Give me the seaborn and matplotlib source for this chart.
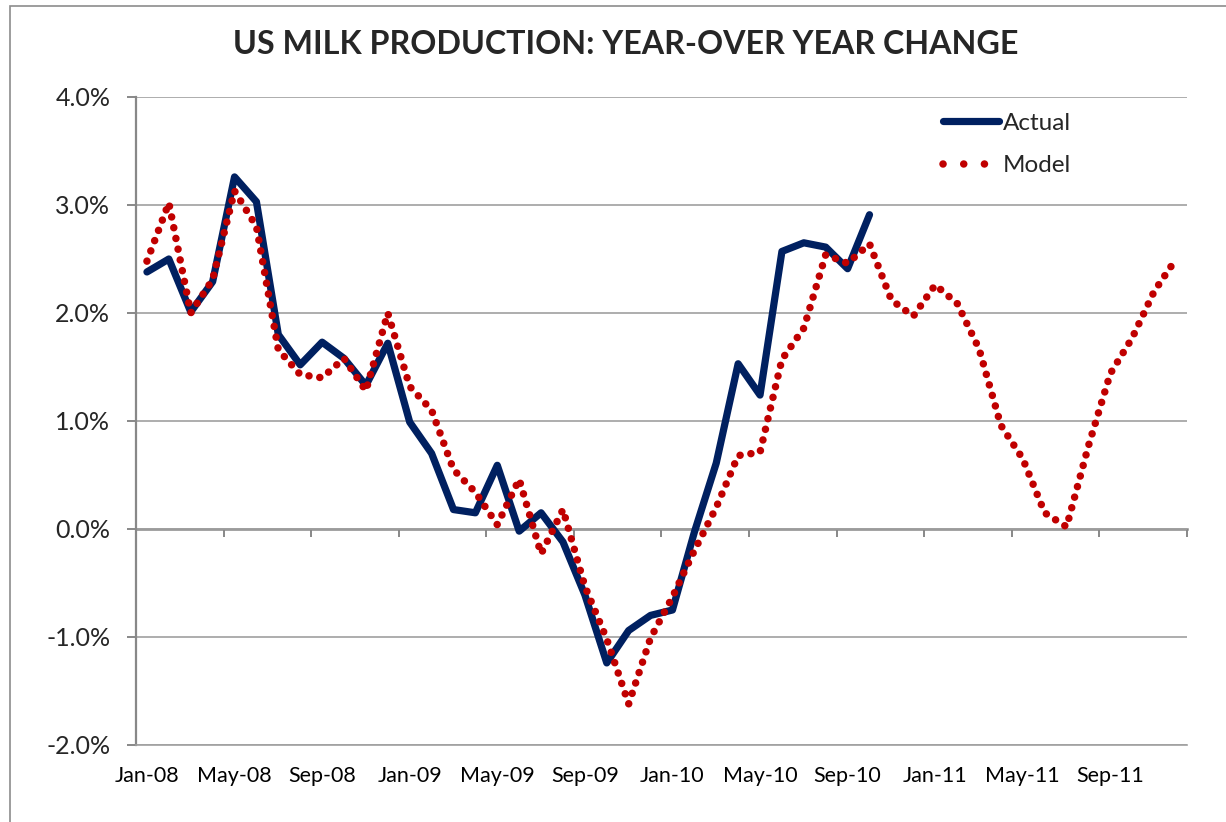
import pandas as pd
import matplotlib
matplotlib.use('Agg')
import matplotlib.pyplot as plt
import seaborn as sns
from matplotlib.lines import Line2D
from matplotlib.patches import Rectangle

# month categories Jan-08 .. Dec-11
months = pd.date_range('2008-01-01', periods=48, freq='MS').strftime('%b-%y').tolist()

# year-over-year change, percent
actual = [2.38, 2.50, 2.01, 2.29, 3.26, 3.03, 1.80, 1.52, 1.73, 1.58, 1.33, 1.72,
          0.99, 0.70, 0.18, 0.15, 0.59, -0.02, 0.15, -0.12, -0.61, -1.24, -0.94, -0.80,
          -0.75, -0.03, 0.61, 1.53, 1.24, 2.57, 2.65, 2.61, 2.41, 2.91]
model = [2.48, 3.02, 2.00, 2.31, 3.13, 2.80, 1.66, 1.43, 1.40, 1.58, 1.28, 2.00,
         1.32, 1.10, 0.55, 0.34, 0.04, 0.46, -0.23, 0.18, -0.53, -1.02, -1.62, -1.01,
         -0.63, -0.20, 0.20, 0.68, 0.71, 1.57, 1.86, 2.54, 2.46, 2.64, 2.12, 1.97,
         2.26, 2.09, 1.67, 0.96, 0.65, 0.15, 0.02, 0.77, 1.44, 1.77, 2.20, 2.50]
y_ticks = [-2, -1, 0, 1, 2, 3, 4]

NAVY = '#002060'
RED = '#C00000'
GRID = '#A0A0A0'

sns.set_theme(style='white')
plt.rcParams['font.family'] = ['Lato', 'DejaVu Sans']

fig = plt.figure(figsize=(12.26, 8.22), dpi=100)
ax = fig.add_axes([136 / 1226, 1 - 745 / 822, (1187 - 136) / 1226, (745 - 97) / 822])

df_act = pd.DataFrame({'month': range(len(actual)), 'value': actual})
df_mod = pd.DataFrame({'month': range(len(model)), 'value': model})

sns.lineplot(data=df_act, x='month', y='value', ax=ax, color=NAVY, lw=5.2,
             solid_capstyle='round', solid_joinstyle='round', zorder=3)
sns.lineplot(data=df_mod, x='month', y='value', ax=ax, color=RED, lw=5.4,
             linestyle=(0, (0.01, 1.45)), dash_capstyle='round', zorder=4)

ax.set_xlim(-0.5, len(months) - 0.5)
ax.set_ylim(-2, 4)
ax.set_xlabel('')
ax.set_ylabel('')

# category labels every 4 months at the bottom
ax.set_xticks(range(0, len(months), 4))
ax.set_xticklabels(months[::4], fontsize=15.5)
ax.tick_params(axis='x', length=0, pad=15, colors='black')

ax.set_yticks(y_ticks)
ax.set_yticklabels([f'{v:.1f}%' for v in y_ticks], fontsize=18)
ax.tick_params(axis='y', length=6.5, width=1.4, color='#888888', pad=12, left=True)

ax.grid(axis='y', color=GRID, lw=1.2)
ax.grid(axis='x', visible=False)
for side in ['top', 'right']:
    ax.spines[side].set_visible(False)
ax.spines['bottom'].set_color(GRID)
ax.spines['bottom'].set_linewidth(1.2)
ax.spines['left'].set_color('#888888')
ax.spines['left'].set_linewidth(1.6)

# horizontal axis crossing at 0 with tick marks between categories
sec = ax.secondary_xaxis(2 / 6)
sec.set_xticks([i - 0.5 for i in range(0, len(months) + 1, 4)])
sec.tick_params(axis='x', length=6, width=1.4, color='#888888', labelbottom=False, labeltop=False)
sec.spines['bottom'].set_color('#888888')
sec.spines['bottom'].set_linewidth(1.8)

handles = [Line2D([], [], color=NAVY, lw=5.2, solid_capstyle='round'),
           Line2D([], [], color=RED, lw=5.4, linestyle=(0, (0.01, 2.75)), dash_capstyle='round')]
ax.legend(handles, ['Actual', 'Model'], loc='upper left', bbox_to_anchor=(0.768, 0.976),
          frameon=False, fontsize=17.5, handlelength=2.3, handletextpad=0.15,
          labelspacing=0.9, borderpad=0, borderaxespad=0)

fig.text(626 / 1226, 1 - 45 / 822, 'US MILK PRODUCTION: YEAR-OVER YEAR CHANGE',
         ha='center', va='center', fontsize=23.2, fontweight='bold')

# outer chart border
fig.add_artist(Rectangle((10 / 1226, -0.05), 1.1, (822 - 6) / 822 + 0.05,
                         transform=fig.transFigure, fill=False, edgecolor='#8C8C8C', lw=1.2))

fig.savefig('out.png', dpi=100)
